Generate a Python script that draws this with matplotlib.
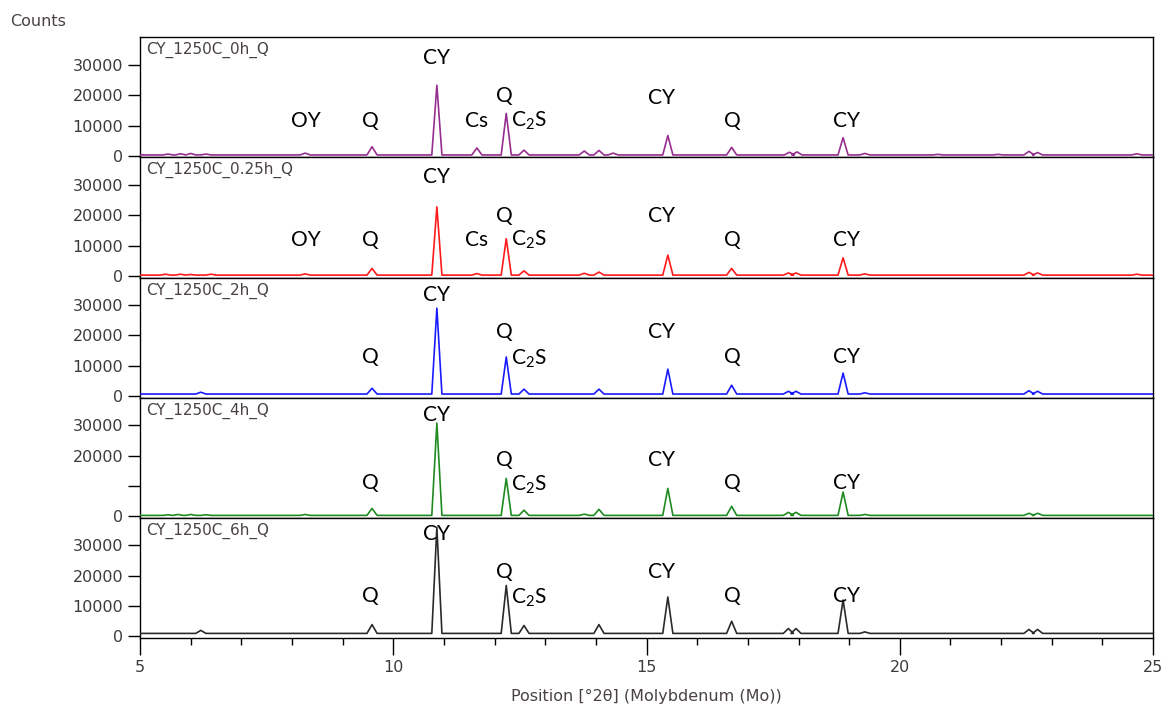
import matplotlib
matplotlib.use("Agg")
import matplotlib.pyplot as plt
from matplotlib.ticker import MultipleLocator

# --- data --------------------------------------------------------------
samples = ["CY_1250C_0h_Q", "CY_1250C_0.25h_Q", "CY_1250C_2h_Q",
           "CY_1250C_4h_Q", "CY_1250C_6h_Q"]
colors = ["#962d8f", "#ff1a1a", "#1a1aff", "#1f8a1f", "#2a2a2a"]
baselines = [300, 300, 700, 300, 1000]

# peak position (deg 2theta) and top value (counts)
pos_0h = [5.55, 5.8, 6.0, 6.3, 8.26, 9.58, 10.86, 11.65, 12.23, 12.58, 13.77,
          14.06, 14.34, 15.42, 16.68, 17.82, 17.97, 18.88, 19.31, 20.75,
          21.94, 22.55, 22.72, 24.68]
cnt_0h = [600, 700, 800, 600, 900, 3000, 23300, 2600, 14000, 1900, 1600,
          1800, 900, 6700, 2800, 1200, 1300, 6000, 800, 500,
          500, 1500, 1100, 700]

pos_025h = [5.5, 5.8, 6.0, 6.4, 8.26, 9.58, 10.86, 11.65, 12.23, 12.58, 13.77,
            14.06, 15.42, 16.68, 17.8, 17.95, 18.88, 19.31, 22.55, 22.72,
            24.68]
cnt_025h = [600, 600, 500, 600, 700, 2500, 22800, 800, 12300, 1700, 900,
            1300, 6900, 2500, 1000, 1000, 6000, 700, 1200, 1000,
            600]

pos_2h = [6.2, 9.58, 10.86, 12.23, 12.58, 14.06, 15.42, 16.68, 17.8, 17.95,
          18.88, 19.31, 22.55, 22.72]
cnt_2h = [1300, 2600, 29000, 12900, 2300, 2300, 8900, 3600, 1600, 1600,
          7600, 1100, 1800, 1600]

pos_4h = [5.55, 5.75, 6.0, 6.3, 8.26, 9.58, 10.86, 12.23, 12.58, 13.77, 14.06,
          15.42, 16.68, 17.8, 17.95, 18.88, 19.31, 22.55, 22.72]
cnt_4h = [500, 600, 600, 500, 600, 2600, 30700, 12500, 2000, 700, 2300,
          9200, 3300, 1300, 1300, 8000, 600, 1000, 1000]

pos_6h = [6.2, 9.58, 10.86, 12.23, 12.58, 14.06, 15.42, 16.68, 17.8, 17.95,
          18.88, 19.31, 22.55, 22.72]
cnt_6h = [2000, 3900, 36000, 16800, 3600, 3900, 13000, 5000, 2600, 2600,
          12000, 1500, 2300, 2300]

peak_pos = [pos_0h, pos_025h, pos_2h, pos_4h, pos_6h]
peak_cnt = [cnt_0h, cnt_025h, cnt_2h, cnt_4h, cnt_6h]

# phase labels
label_txt = ["OY", "Q", "CY", "Cs", "Q", "C$_2$S", "CY", "Q", "CY"]
label_x = [8.27, 9.55, 10.85, 11.65, 12.2, 12.68, 15.3, 16.7, 18.94]
label_y = [
    [11500, 11500, 32300, 11500, 19800, 11500, 19100, 11500, 11500],
    [11900, 11900, 32700, 11900, 19800, 11900, 19800, 11900, 11900],
    [None, 12900, 33300, None, 21100, 12300, 21100, 12900, 12900],
    [None, 10900, 33300, None, 18500, 10500, 18500, 10900, 10900],
    [None, 13200, 33700, None, 21100, 12600, 21100, 13200, 13200],
]

# -----------------------------------------------------------------------
plt.rcParams["mathtext.fontset"] = "custom"
plt.rcParams["mathtext.rm"] = "Lato"
plt.rcParams["mathtext.default"] = "regular"

half_w = 0.1
tick_col = "#3c3c3c"

fig, axes = plt.subplots(5, 1, sharex=True, figsize=(11.73, 7.16), dpi=100)
fig.subplots_adjust(left=0.1194, right=0.983, top=0.948, bottom=0.109,
                    hspace=0)

for i, ax in enumerate(axes):
    base = baselines[i]
    xs, ys = [5.0], [base]
    for p, c in sorted(zip(peak_pos[i], peak_cnt[i])):
        xs += [p - half_w, p, p + half_w]
        ys += [base, c, base]
    xs.append(25.0)
    ys.append(base)
    ax.plot(xs, ys, color=colors[i], lw=1.2, zorder=3)

    ax.set_xlim(5, 25)
    ax.set_ylim(-500, 39100)
    ax.set_yticks([0, 10000, 20000, 30000])
    if i == 3:
        ax.set_yticklabels(["0", "", "20000", "30000"])
    ax.tick_params(axis="y", direction="out", length=9, width=1,
                   labelsize=11.5, labelcolor=tick_col, pad=3)
    for s in ax.spines.values():
        s.set_color("black")
        s.set_linewidth(1)

    ax.text(0.006, 0.96, samples[i], transform=ax.transAxes, ha="left",
            va="top", fontsize=11, color="#4a4242")

    for t, x, y in zip(label_txt, label_x, label_y[i]):
        if y is None:
            continue
        ax.text(x, y, t, ha="center", va="center", fontsize=15,
                family="Lato", color="black", zorder=4)

    if i < 4:
        ax.tick_params(axis="x", which="both", bottom=False)

bottom = axes[-1]
bottom.set_xticks([5, 10, 15, 20, 25])
bottom.xaxis.set_minor_locator(MultipleLocator(1))
bottom.tick_params(axis="x", which="major", direction="out", length=12,
                   width=1, labelsize=11.5, labelcolor=tick_col, pad=4)
bottom.tick_params(axis="x", which="minor", direction="out", length=5,
                   width=1)
bottom.set_xlabel("Position [°2θ] (Molybdenum (Mo))", fontsize=11.5,
                  color="#4a4242", labelpad=10)

fig.text(0.009, 0.97, "Counts", fontsize=11.5, color="#4a4242",
         ha="left", va="center")

fig.savefig("out.png", dpi=100)
